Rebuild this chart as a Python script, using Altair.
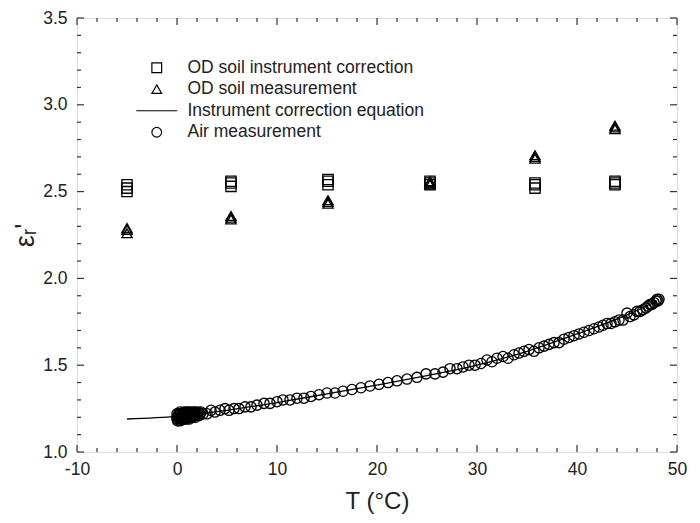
import altair as alt
import pandas as pd

# ---------------- data ----------------
series_names = ["OD soil instrument correction", "OD soil measurement",
                "Instrument correction equation", "Air measurement"]

sq_T = [-5.0, -5.0, -5.0, 5.4, 5.4, 5.4, 15.1, 15.1, 15.1,
        25.3, 25.3, 25.3, 35.8, 35.8, 35.8, 43.8, 43.8, 43.8]
sq_eps = [2.50, 2.52, 2.54, 2.53, 2.55, 2.56, 2.54, 2.56, 2.57,
          2.54, 2.55, 2.56, 2.52, 2.54, 2.55, 2.54, 2.55, 2.56]

tri_T = [-5.0, -5.0, -5.0, 5.4, 5.4, 5.4, 15.1, 15.1, 15.1,
         25.3, 25.3, 25.3, 35.8, 35.8, 35.8, 43.8, 43.8, 43.8]
tri_eps = [2.26, 2.28, 2.29, 2.34, 2.35, 2.36, 2.43, 2.44, 2.45,
           2.54, 2.55, 2.56, 2.69, 2.70, 2.71, 2.86, 2.87, 2.88]

line_T = [-5, 0, 5, 10, 15, 20, 25, 30, 35, 40, 45, 48]
line_eps = [1.19, 1.205, 1.24, 1.285, 1.335, 1.385, 1.44, 1.50, 1.58, 1.68, 1.79, 1.87]

air_T = [0.0, 0.0, 0.1, 0.1, 0.2, 0.2, 0.3, 0.3, 0.4, 0.4, 0.5, 0.5, 0.6, 0.7, 0.7,
         0.8, 0.9, 1.0, 1.0, 1.1, 1.2, 1.3, 1.4, 1.5, 1.6, 1.7, 1.8, 1.9, 2.0, 2.2,
         2.4, 2.6,
         0.0, 0.05, 0.15, 0.25, 0.35, 0.45, 0.55, 0.65, 0.75, 0.85, 0.95, 1.05, 1.15,
         1.25, 1.35, 1.45, 1.55, 1.65, 1.75, 1.85, 2.1, 2.3,
         3.0, 3.4, 3.8, 4.3, 4.8, 5.2, 5.7, 6.2, 6.8, 7.4, 8.0, 8.7, 9.3, 10.0, 10.6,
         11.3, 12.0, 12.7, 13.4, 14.2, 15.0, 15.8, 16.6, 17.5, 18.4, 19.3, 20.2, 21.1,
         22.0, 23.0, 24.0, 24.9, 25.8, 26.6, 27.3, 28.0, 28.6, 29.2, 29.8, 30.4, 31.0,
         31.5, 32.0, 32.6, 33.1, 33.7, 34.2, 34.7, 35.2, 35.7, 36.2, 36.7, 37.2, 37.7,
         38.2, 38.7, 39.2, 39.7, 40.2, 40.7, 41.2, 41.7, 42.2, 42.6, 43.0, 43.4, 43.8,
         44.2, 44.6, 45.0, 45.3, 45.7, 46.0, 46.3, 46.6, 46.9, 47.1, 47.3, 47.5, 47.7,
         47.9, 48.1, 48.2, 48.0]
air_eps = [1.19, 1.20, 1.21, 1.18, 1.22, 1.19, 1.20, 1.23, 1.21, 1.19, 1.20, 1.22, 1.21,
           1.19, 1.23, 1.20, 1.22, 1.21, 1.19, 1.23, 1.20, 1.22, 1.21, 1.20, 1.22, 1.21,
           1.23, 1.21, 1.22, 1.21, 1.23, 1.22,
           1.22, 1.18, 1.20, 1.22, 1.18, 1.21, 1.19, 1.22, 1.21, 1.19, 1.23, 1.20, 1.22,
           1.19, 1.23, 1.22, 1.20, 1.23, 1.22, 1.20, 1.23, 1.22,
           1.22, 1.24, 1.23, 1.24, 1.25, 1.24, 1.25, 1.25, 1.26, 1.26, 1.27, 1.28, 1.28,
           1.29, 1.30, 1.30, 1.31, 1.31, 1.32, 1.33, 1.34, 1.34, 1.35, 1.36, 1.37, 1.38,
           1.39, 1.40, 1.41, 1.42, 1.43, 1.45, 1.45, 1.46, 1.48, 1.48, 1.49, 1.50, 1.50,
           1.51, 1.53, 1.52, 1.54, 1.55, 1.54, 1.56, 1.57, 1.58, 1.59, 1.58, 1.60, 1.61,
           1.62, 1.63, 1.63, 1.65, 1.66, 1.67, 1.68, 1.69, 1.70, 1.71, 1.72, 1.73, 1.74,
           1.74, 1.75, 1.76, 1.76, 1.80, 1.78, 1.79, 1.81, 1.81, 1.82, 1.83, 1.84, 1.85,
           1.85, 1.86, 1.87, 1.87, 1.88, 1.88]

x_major = [-10, 0, 10, 20, 30, 40, 50]
x_minor = [-8, -6, -4, -2, 2, 4, 6, 8, 12, 14, 16, 18, 22, 24, 26, 28,
           32, 34, 36, 38, 42, 44, 46, 48]
y_major = [1.0, 1.5, 2.0, 2.5, 3.0, 3.5]
y_minor = [1.1, 1.2, 1.3, 1.4, 1.6, 1.7, 1.8, 1.9, 2.1, 2.2, 2.3, 2.4,
           2.6, 2.7, 2.8, 2.9, 3.1, 3.2, 3.3, 3.4]

# ---------------- chart ----------------
W, H = 600, 434
FONT = "Liberation Sans"
INK = "#222222"

xs = alt.Scale(domain=[-10, 50], nice=False, zero=False)
ys = alt.Scale(domain=[1.0, 3.5], nice=False, zero=False)

xaxis = alt.Axis(values=x_major, ticks=False, tickSize=0, domain=False, grid=False,
                 labelFlush=False, labelExpr="datum.value + ''",
                 labelFontSize=17.5, labelFont=FONT, labelColor=INK, labelPadding=8,
                 title="T (°C)", titleFont=FONT, titleFontSize=24,
                 titleFontWeight="normal", titleColor=INK, titlePadding=12)
yaxis = alt.Axis(values=y_major, format=".1f", ticks=False, tickSize=0, domain=False,
                 grid=False, labelFlush=False, labelFontSize=17.5, labelFont=FONT,
                 labelColor=INK, labelPadding=10, title="εᵣ'", titleFont=FONT,
                 titleFontSize=27, titleFontWeight="normal", titleColor=INK, titlePadding=3)

pts = pd.concat([
    pd.DataFrame({"T": sq_T, "eps": sq_eps, "series": series_names[0]}),
    pd.DataFrame({"T": tri_T, "eps": tri_eps, "series": series_names[1]}),
    pd.DataFrame({"T": air_T, "eps": air_eps, "series": series_names[3]}),
], ignore_index=True)
line_df = pd.DataFrame({"T": line_T, "eps": line_eps})

points = alt.Chart(pts).mark_point(filled=False, color="black", strokeWidth=1.3, size=105, opacity=1).encode(
    x=alt.X("T:Q", scale=xs, axis=xaxis),
    y=alt.Y("eps:Q", scale=ys, axis=yaxis),
    shape=alt.Shape("series:N",
                    scale=alt.Scale(domain=series_names,
                                    range=["square", "triangle-up", "M-4.2,0H4.2", "circle"]),
                    legend=alt.Legend(title=None, orient="none", legendX=71, legendY=41,
                                      labelFont=FONT, labelFontSize=17.5, labelColor=INK,
                                      labelLimit=400,
                                      symbolSize=95, symbolStrokeColor="black",
                                      symbolFillColor="transparent", symbolStrokeWidth=1.2,
                                      labelOffset=22, rowPadding=2.5, padding=0)),
)

line = alt.Chart(line_df).mark_line(color="black", strokeWidth=1.3, interpolate="monotone").encode(
    x=alt.X("T:Q", scale=xs, axis=xaxis),
    y=alt.Y("eps:Q", scale=ys, axis=yaxis),
)


def tick_layer(vals, length, side):
    df = pd.DataFrame({"v": vals})
    base = alt.Chart(df).mark_rule(color="#333333", strokeWidth=1.2)
    if side == "bottom":
        return base.encode(x=alt.X("v:Q", scale=xs, axis=xaxis), y=alt.value(H), y2=alt.value(H - length))
    if side == "top":
        return base.encode(x=alt.X("v:Q", scale=xs, axis=xaxis), y=alt.value(0), y2=alt.value(length))
    if side == "left":
        return base.encode(y=alt.Y("v:Q", scale=ys, axis=yaxis), x=alt.value(0), x2=alt.value(length))
    return base.encode(y=alt.Y("v:Q", scale=ys, axis=yaxis), x=alt.value(W), x2=alt.value(W - length))


ticks = []
for side in ["bottom", "top"]:
    ticks.append(tick_layer(x_major, 7, side))
    ticks.append(tick_layer(x_minor, 4, side))
for side in ["left", "right"]:
    ticks.append(tick_layer(y_major, 7, side))
    ticks.append(tick_layer(y_minor, 4, side))

chart = alt.layer(points, line, *ticks).properties(
    width=W, height=H,
    autosize=alt.AutoSizeParams(type="none"),
    padding={"left": 69, "top": 10, "right": 15, "bottom": 70},
).configure_view(stroke="#333333", strokeWidth=1.6).configure(background="white")

chart.save("out.html", embed_options={"renderer": "svg", "actions": False})
